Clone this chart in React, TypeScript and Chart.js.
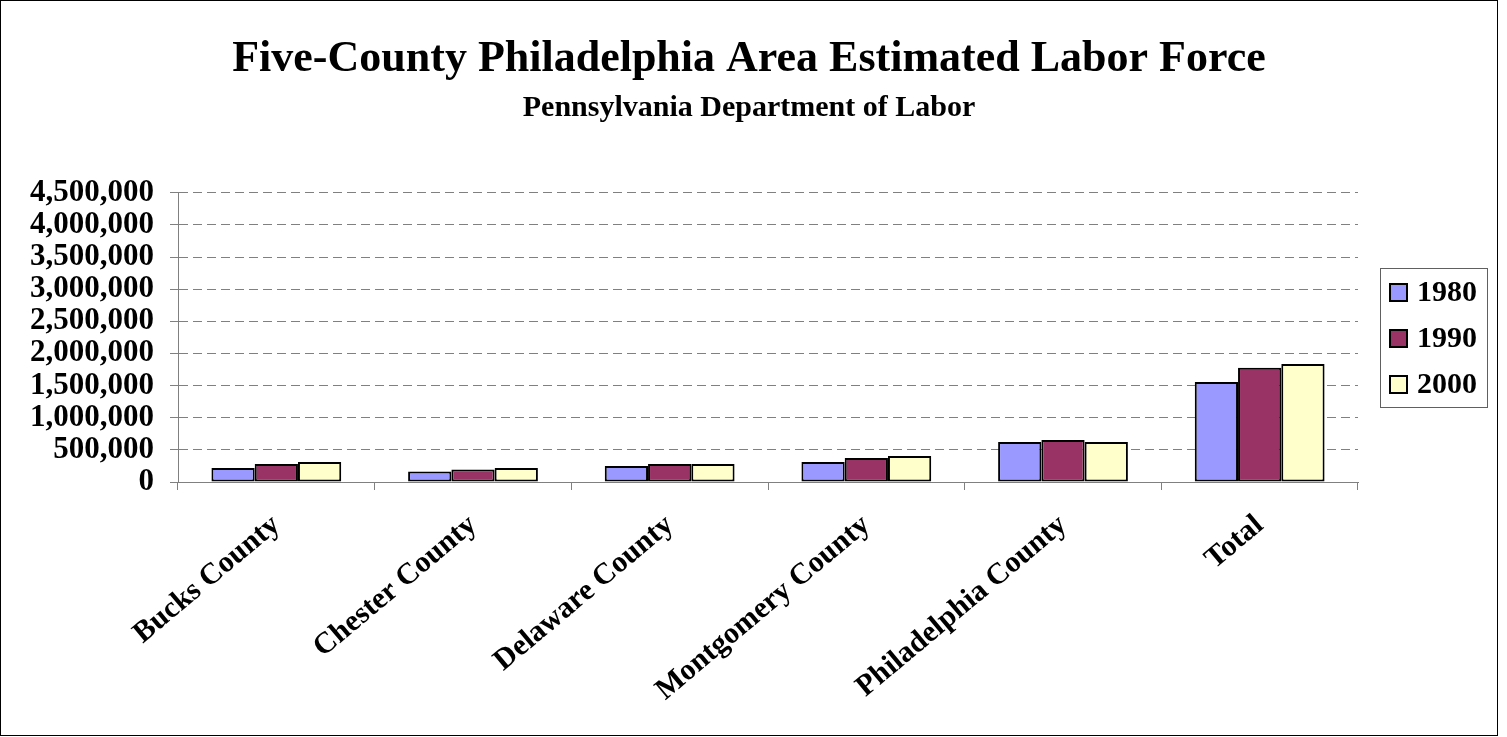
import React, { useEffect, useRef } from 'react';
import { Chart, registerables, layouts } from 'chart.js';

Chart.register(...registerables);

const FONT = '"Liberation Serif", "Times New Roman", Times, serif';

const titleText = 'Five-County Philadelphia Area Estimated Labor Force';
const subtitleText = 'Pennsylvania Department of Labor';

const categories = [
  'Bucks County',
  'Chester County',
  'Delaware County',
  'Montgomery County',
  'Philadelphia County',
  'Total',
];

const seriesNames = ['1980', '1990', '2000'];
const labor1980 = [218000, 162000, 249000, 311000, 623000, 1557000];
const labor1990 = [280000, 193000, 280000, 374000, 654000, 1776000];
const labor2000 = [311000, 218000, 280000, 405000, 623000, 1838000];
const seriesColors = ['#9999FF', '#993366', '#FFFFCC'];

const yMin = 0;
const yMax = 4500000;
const yStep = 500000;

const LEGEND_FONT = 30;

// A right-hand layout box that reserves room for, and draws, the framed legend.
const boxedLegend = {
  id: 'boxedLegend',
  beforeInit(chart: any) {
    const box: any = {
      position: 'right',
      weight: 0,
      fullSize: false,
      options: {},
      left: 0,
      top: 0,
      right: 0,
      bottom: 0,
      width: 0,
      height: 0,
      isHorizontal() {
        return false;
      },
      update(maxWidth: number, maxHeight: number) {
        this.width = Math.min(139, maxWidth);
        this.height = maxHeight;
      },
      draw() {
        const { ctx, chartArea } = chart;
        const ds = chart.data.datasets;
        ctx.save();
        ctx.font = `bold ${LEGEND_FONT}px ${FONT}`;
        const rowH = 46;
        const sq = 17;
        const textW = Math.max(...ds.map((d: any) => ctx.measureText(d.label).width));
        const w = Math.round(37 + textW + 10);
        const h = rowH * ds.length + 1;
        const left = Math.round(chartArea.right + 22) + 0.5;
        const top = Math.round((chartArea.top + chartArea.bottom) / 2 - h / 2) + 0.5;
        ctx.strokeStyle = '#606060';
        ctx.lineWidth = 1;
        ctx.strokeRect(left, top, w, h);
        ds.forEach((d: any, i: number) => {
          const cy = top + 24 + rowH * i;
          ctx.fillStyle = d.backgroundColor;
          ctx.fillRect(left + 9.5, cy - sq / 2, sq, sq);
          ctx.strokeStyle = '#000';
          ctx.lineWidth = 2;
          ctx.strokeRect(left + 9.5, cy - sq / 2, sq, sq);
          ctx.fillStyle = '#000';
          ctx.textAlign = 'left';
          ctx.textBaseline = 'middle';
          ctx.fillText(d.label, left + 36.5, cy + 1);
        });
        ctx.restore();
      },
    };
    layouts.addBox(chart, box);
  },
};

export default function App() {
  const canvasRef = useRef<HTMLCanvasElement | null>(null);

  useEffect(() => {
    const canvas = canvasRef.current;
    if (!canvas) return;
    const seriesValues = [labor1980, labor1990, labor2000];
    const chart = new Chart(canvas, {
      type: 'bar',
      data: {
        labels: categories,
        datasets: seriesNames.map((name, i) => ({
          label: name,
          data: seriesValues[i],
          backgroundColor: seriesColors[i],
          borderColor: '#000000',
          borderWidth: 2,
          borderSkipped: false,
          categoryPercentage: 0.66,
          barPercentage: 1.0,
        })),
      },
      options: {
        responsive: true,
        maintainAspectRatio: false,
        animation: false,
        layout: { padding: { top: 10, right: 0, bottom: 0, left: 0 } },
        plugins: {
          legend: { display: false },
          tooltip: { enabled: false },
          title: {
            display: true,
            text: titleText,
            color: '#000',
            font: { family: FONT, size: 44, weight: 'bold', lineHeight: 1.2 },
            padding: { top: 22, bottom: 0 },
          },
          subtitle: {
            display: true,
            text: subtitleText,
            color: '#000',
            font: { family: FONT, size: 30, weight: 'bold', lineHeight: 1.2 },
            padding: { top: 4, bottom: 67 },
          },
        },
        scales: {
          x: {
            offset: true,
            grid: {
              display: true,
              offset: true,
              drawOnChartArea: false,
              drawTicks: true,
              tickLength: 8,
              color: '#808080',
              tickColor: '#808080',
            },
            border: { display: true, color: '#808080', width: 1 },
            ticks: {
              autoSkip: false,
              maxRotation: 40,
              minRotation: 40,
              padding: 20,
              color: '#000',
              font: { family: FONT, size: 30, weight: 'bold', lineHeight: 1.0 },
            },
            afterFit: (scale: any) => {
              scale.height = 253;
            },
          },
          y: {
            min: yMin,
            max: yMax,
            grid: {
              display: true,
              color: '#808080',
              lineWidth: 1,
              drawTicks: true,
              tickLength: 8,
              tickColor: '#808080',
              tickBorderDash: [],
            },
            border: { display: true, color: '#808080', width: 1, dash: [9, 5] },
            ticks: {
              stepSize: yStep,
              autoSkip: false,
              padding: 16,
              color: '#000',
              font: { family: FONT, size: 31, weight: 'bold', lineHeight: 1.0 },
              callback: (v: any) => Number(v).toLocaleString('en-US'),
            },
            afterFit: (scale: any) => {
              scale.width = 177;
            },
          },
        },
      },
      plugins: [boxedLegend],
    });
    return () => chart.destroy();
  }, []);

  return (
    <div
      style={{
        position: 'absolute',
        left: 0,
        top: 0,
        width: 1496,
        height: 734,
        border: '1px solid #000',
        background: '#fff',
      }}
    >
      <canvas ref={canvasRef} />
    </div>
  );
}
